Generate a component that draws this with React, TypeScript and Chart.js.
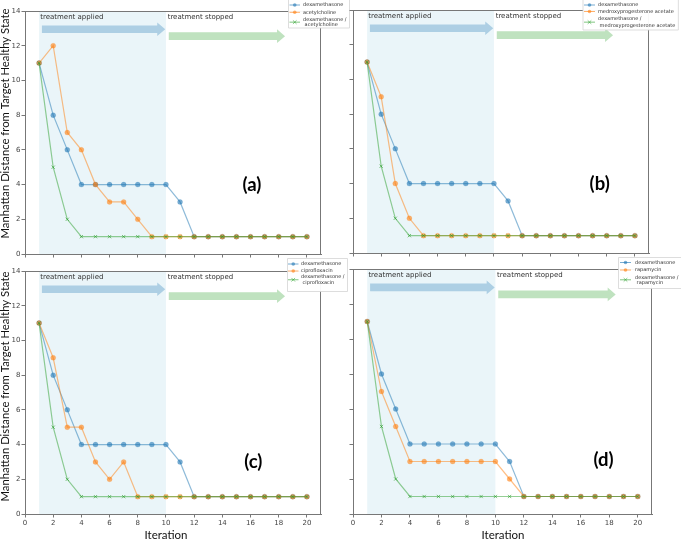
import React, { useEffect, useRef } from 'react';
import { Chart, registerables } from 'chart.js';

Chart.register(...registerables);

const W = 681;
const H = 541;

// ---------- data ----------
const iterations = [1, 2, 3, 4, 5, 6, 7, 8, 9, 10, 11, 12, 13, 14, 15, 16, 17, 18, 19, 20];
const xTickValues = [0, 2, 4, 6, 8, 10, 12, 14, 16, 18, 20];
const yTickValues = [0, 2, 4, 6, 8, 10, 12, 14];
const treatmentWindow = [1, 10];

// (a)
const dexamethasoneA = [11, 8, 6, 4, 4, 4, 4, 4, 4, 4, 3, 1, 1, 1, 1, 1, 1, 1, 1, 1];
const acetylcholine = [11, 12, 7, 6, 4, 3, 3, 2, 1, 1, 1, 1, 1, 1, 1, 1, 1, 1, 1, 1];
const dexAcetylcholine = [11, 5, 2, 1, 1, 1, 1, 1, 1, 1, 1, 1, 1, 1, 1, 1, 1, 1, 1, 1];
// (b)
const dexamethasoneB = [11, 8, 6, 4, 4, 4, 4, 4, 4, 4, 3, 1, 1, 1, 1, 1, 1, 1, 1, 1];
const medroxyprogesterone = [11, 9, 4, 2, 1, 1, 1, 1, 1, 1, 1, 1, 1, 1, 1, 1, 1, 1, 1, 1];
const dexMedroxyprogesterone = [11, 5, 2, 1, 1, 1, 1, 1, 1, 1, 1, 1, 1, 1, 1, 1, 1, 1, 1, 1];
// (c)
const dexamethasoneC = [11, 8, 6, 4, 4, 4, 4, 4, 4, 4, 3, 1, 1, 1, 1, 1, 1, 1, 1, 1];
const ciprofloxacin = [11, 9, 5, 5, 3, 2, 3, 1, 1, 1, 1, 1, 1, 1, 1, 1, 1, 1, 1, 1];
const dexCiprofloxacin = [11, 5, 2, 1, 1, 1, 1, 1, 1, 1, 1, 1, 1, 1, 1, 1, 1, 1, 1, 1];
// (d)
const dexamethasoneD = [11, 8, 6, 4, 4, 4, 4, 4, 4, 4, 3, 1, 1, 1, 1, 1, 1, 1, 1, 1];
const rapamycin = [11, 7, 5, 3, 3, 3, 3, 3, 3, 3, 2, 1, 1, 1, 1, 1, 1, 1, 1, 1];
const dexRapamycin = [11, 5, 2, 1, 1, 1, 1, 1, 1, 1, 1, 1, 1, 1, 1, 1, 1, 1, 1, 1];

const seriesRGB = ['31,119,180', '255,127,14', '44,160,44'];
const yTitle = 'Manhattan Distance from Target Healthy State';
const xTitle = 'Iteration';

type PanelDef = {
  key: string;
  area: { L: number; R: number; T: number; B: number };
  showX: boolean;
  showY: boolean;
  letter: string;
  letterAt: [number, number];
  names: string[][];
  data: number[][];
  legend: { x: number; top: number; bottom: number; sx0: number; sx1: number; tx: number; rows: number[][] };
  yTitleY?: number;
  xTitleX?: number;
};

const panels: PanelDef[] = [
  {
    key: 'a',
    area: { L: 25, R: 321, T: 11, B: 254 },
    showX: false,
    showY: true,
    letter: '(a)',
    letterAt: [16.1, 4.0],
    names: [['dexamethasone'], ['acetylcholine'], ['dexamethasone /', ' acetylcholine']],
    data: [dexamethasoneA, acetylcholine, dexAcetylcholine],
    legend: { x: 288, top: -1, bottom: 27.5, sx0: 289.5, sx1: 300, tx: 303, rows: [[5], [12.3], [19.3, 25]] },
    yTitleY: 123.5,
  },
  {
    key: 'b',
    area: { L: 353, R: 649, T: 10, B: 253 },
    showX: false,
    showY: false,
    letter: '(b)',
    letterAt: [17.5, 4.0],
    names: [['dexamethasone'], ['medroxyprogesterone acetate'], ['dexamethasone /', ' medroxyprogesterone acetate']],
    data: [dexamethasoneB, medroxyprogesterone, dexMedroxyprogesterone],
    legend: { x: 582.5, top: -1, bottom: 29.5, sx0: 584, sx1: 595, tx: 598, rows: [[5], [11.5], [19, 25.3]] },
  },
  {
    key: 'c',
    area: { L: 25, R: 321, T: 271, B: 514 },
    showX: true,
    showY: true,
    letter: '(c)',
    letterAt: [16.2, 3.0],
    names: [['dexamethasone'], ['ciprofloxacin'], ['dexamethasone /', ' ciprofloxacin']],
    data: [dexamethasoneC, ciprofloxacin, dexCiprofloxacin],
    legend: { x: 287, top: 258, bottom: 291, sx0: 288, sx1: 298.5, tx: 301, rows: [[264], [271], [277, 282.5]] },
    yTitleY: 386.5,
    xTitleX: 166,
  },
  {
    key: 'd',
    area: { L: 353, R: 652, T: 269, B: 514 },
    showX: true,
    showY: false,
    letter: '(d)',
    letterAt: [17.6, 3.1],
    names: [['dexamethasone'], ['rapamycin'], ['dexamethasone /', ' rapamycin']],
    data: [dexamethasoneD, rapamycin, dexRapamycin],
    legend: { x: 618, top: 257, bottom: 288, sx0: 620, sx1: 631, tx: 635, rows: [[262.5], [270], [277.3, 282.3]] },
    xTitleX: 503,
  },
];

function drawArrow(ctx: CanvasRenderingContext2D, x0: number, x1: number, yc: number, color: string) {
  const h = 3.8, hh = 6.8, hl = 8;
  ctx.beginPath();
  ctx.moveTo(x0, yc - h);
  ctx.lineTo(x1 - hl, yc - h);
  ctx.lineTo(x1 - hl, yc - hh);
  ctx.lineTo(x1, yc);
  ctx.lineTo(x1 - hl, yc + hh);
  ctx.lineTo(x1 - hl, yc + h);
  ctx.lineTo(x0, yc + h);
  ctx.closePath();
  ctx.fillStyle = color;
  ctx.fill();
}

function drawMarker(ctx: CanvasRenderingContext2D, i: number, x: number, y: number, r: number) {
  const c = seriesRGB[i];
  if (i === 2) {
    ctx.strokeStyle = `rgba(${c},0.7)`;
    ctx.lineWidth = 0.8;
    ctx.beginPath();
    ctx.moveTo(x - r, y - r);
    ctx.lineTo(x + r, y + r);
    ctx.moveTo(x - r, y + r);
    ctx.lineTo(x + r, y - r);
    ctx.stroke();
  } else {
    ctx.fillStyle = `rgba(${c},0.6)`;
    ctx.beginPath();
    ctx.arc(x, y, r, 0, Math.PI * 2);
    ctx.fill();
  }
}

function decorPlugin(p: PanelDef) {
  return {
    id: 'decor_' + p.key,
    beforeDatasetsDraw(chart: any) {
      const { ctx, chartArea: a, scales } = chart;
      const xs = scales.x, ys = scales.y;
      ctx.save();
      const s0 = xs.getPixelForValue(treatmentWindow[0]);
      const s1 = xs.getPixelForValue(treatmentWindow[1]);
      ctx.fillStyle = 'rgba(173,216,230,0.25)';
      ctx.fillRect(s0, a.top, s1 - s0, a.bottom - a.top);
      drawArrow(ctx, xs.getPixelForValue(1.2), xs.getPixelForValue(9.95), ys.getPixelForValue(12.95), 'rgba(31,119,180,0.3)');
      drawArrow(ctx, xs.getPixelForValue(10.2), xs.getPixelForValue(18.45), ys.getPixelForValue(12.55), 'rgba(44,160,44,0.3)');
      ctx.font = '7px "DejaVu Sans"';
      ctx.fillStyle = '#333';
      ctx.textBaseline = 'middle';
      ctx.textAlign = 'left';
      ctx.fillText('treatment applied', xs.getPixelForValue(1.08), ys.getPixelForValue(13.65));
      ctx.fillText('treatment stopped', xs.getPixelForValue(10.12), ys.getPixelForValue(13.65));
      ctx.restore();
    },
    afterDraw(chart: any) {
      const { ctx, chartArea: a, scales } = chart;
      const xs = scales.x, ys = scales.y;
      ctx.save();
      // top and right spines
      ctx.strokeStyle = '#777';
      ctx.lineWidth = 1;
      ctx.beginPath();
      const t = Math.round(a.top) + 0.5;
      const r = Math.round(a.right) - 0.5;
      ctx.moveTo(a.left, t);
      ctx.lineTo(r, t);
      ctx.lineTo(r, a.bottom);
      ctx.stroke();
      // panel letter
      ctx.fillStyle = '#000';
      ctx.font = 'bold 18.5px Lato';
      ctx.textAlign = 'center';
      ctx.textBaseline = 'middle';
      ctx.fillText(p.letter, xs.getPixelForValue(p.letterAt[0]), ys.getPixelForValue(p.letterAt[1]));
      // axis titles
      ctx.font = '11.3px Lato';
      ctx.fillStyle = '#111';
      if (p.yTitleY !== undefined) {
        ctx.save();
        ctx.translate(5.8, p.yTitleY);
        ctx.rotate(-Math.PI / 2);
        ctx.fillText(yTitle, 0, 0);
        ctx.restore();
      }
      if (p.xTitleX !== undefined) {
        ctx.font = '11.5px Lato';
        ctx.fillText(xTitle, p.xTitleX, 535.5);
      }
      // legend
      const lg = p.legend;
      ctx.font = '5px "DejaVu Sans"';
      let maxW = 0;
      p.names.forEach((lines) => lines.forEach((s) => { maxW = Math.max(maxW, ctx.measureText(s).width); }));
      const bw = lg.tx + maxW + 2.5 - lg.x;
      ctx.fillStyle = 'rgba(255,255,255,0.95)';
      ctx.strokeStyle = '#d4d4d4';
      ctx.lineWidth = 0.8;
      ctx.beginPath();
      ctx.rect(lg.x + 0.5, lg.top + 0.5, bw, lg.bottom - lg.top);
      ctx.fill();
      ctx.stroke();
      ctx.textAlign = 'left';
      ctx.textBaseline = 'middle';
      p.names.forEach((lines, i) => {
        const rows = lg.rows[i];
        const ym = rows.reduce((s, v) => s + v, 0) / rows.length;
        ctx.strokeStyle = `rgba(${seriesRGB[i]},0.6)`;
        ctx.lineWidth = 1;
        ctx.beginPath();
        ctx.moveTo(lg.sx0, ym);
        ctx.lineTo(lg.sx1, ym);
        ctx.stroke();
        drawMarker(ctx, i, (lg.sx0 + lg.sx1) / 2, ym, 1.8);
        ctx.fillStyle = '#333';
        lines.forEach((s, k) => ctx.fillText(s, lg.tx, rows[k]));
      });
      ctx.restore();
    },
  };
}

function buildConfig(p: PanelDef): any {
  const yW = p.showY ? 25 : 4;
  const xH = p.showX ? 27 : 4;
  const tickFont = { family: 'DejaVu Sans', size: 7 };
  return {
    type: 'line',
    data: {
      datasets: p.data.map((d, i) => ({
        label: p.names[i].join(' '),
        data: iterations.map((x, j) => ({ x, y: d[j] })),
        borderColor: `rgba(${seriesRGB[i]},0.5)`,
        backgroundColor: `rgba(${seriesRGB[i]},0.6)`,
        pointBackgroundColor: `rgba(${seriesRGB[i]},0.6)`,
        pointBorderColor: i === 2 ? `rgba(${seriesRGB[i]},0.7)` : `rgba(${seriesRGB[i]},0.3)`,
        pointStyle: i === 2 ? 'crossRot' : 'circle',
        pointRadius: i === 2 ? 2.3 : 2.5,
        pointBorderWidth: i === 2 ? 0.9 : 0.5,
        borderWidth: 1.2,
        tension: 0,
        fill: false,
        order: 3 - i,
      })),
    },
    options: {
      animation: false,
      responsive: false,
      devicePixelRatio: 1,
      events: [],
      layout: {
        padding: {
          left: p.area.L - yW,
          right: W - p.area.R,
          top: p.area.T,
          bottom: H - p.area.B - xH,
        },
      },
      plugins: { legend: { display: false }, tooltip: { enabled: false }, title: { display: false } },
      scales: {
        x: {
          type: 'linear',
          min: 0,
          max: 21,
          afterBuildTicks: (s: any) => { s.ticks = xTickValues.map((v) => ({ value: v })); },
          afterFit: (s: any) => { s.height = xH; },
          ticks: { display: p.showX, font: tickFont, color: '#444', padding: 1, maxRotation: 0, autoSkip: false },
          grid: { drawOnChartArea: false, drawTicks: true, tickLength: 3.5, color: '#777' },
          border: { display: true, color: '#777', width: 1 },
        },
        y: {
          type: 'linear',
          min: 0,
          max: 14,
          afterBuildTicks: (s: any) => { s.ticks = yTickValues.map((v) => ({ value: v })); },
          afterFit: (s: any) => { s.width = yW; },
          ticks: { display: p.showY, font: tickFont, color: '#444', padding: 1 },
          grid: { drawOnChartArea: false, drawTicks: true, tickLength: 3.5, color: '#777' },
          border: { display: true, color: '#777', width: 1 },
        },
      },
    },
    plugins: [decorPlugin(p)],
  };
}

function Panel({ p }: { p: PanelDef }) {
  const ref = useRef<HTMLCanvasElement>(null);
  useEffect(() => {
    const chart = new Chart(ref.current as HTMLCanvasElement, buildConfig(p));
    return () => chart.destroy();
  }, [p]);
  return <canvas ref={ref} width={W} height={H} style={{ position: 'absolute', left: 0, top: 0 }} />;
}

export default function App() {
  return (
    <div style={{ position: 'fixed', left: 0, top: 0, width: W, height: H, background: '#fff', overflow: 'hidden' }}>
      {panels.map((p) => (
        <Panel key={p.key} p={p} />
      ))}
    </div>
  );
}
